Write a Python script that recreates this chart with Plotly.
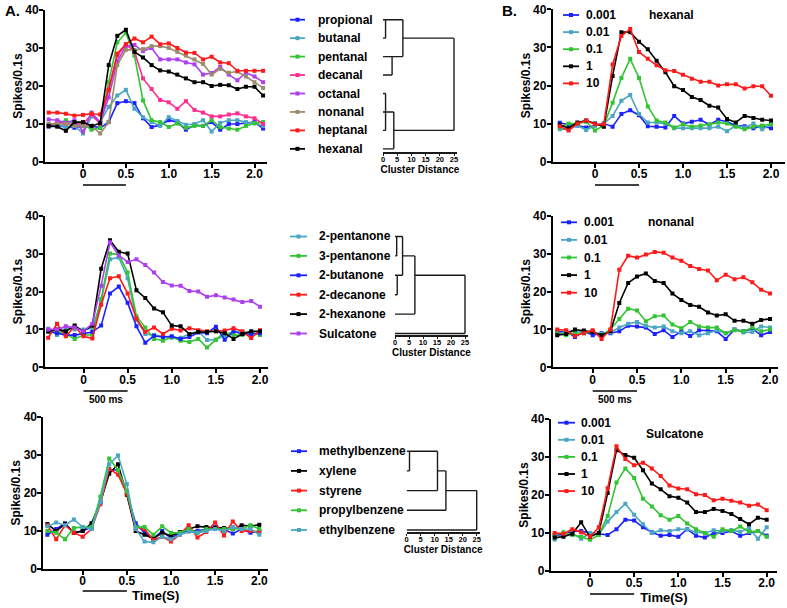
import math
import plotly.graph_objects as go

W, H = 787, 608
FONT = "Liberation Sans, Arial, Helvetica, sans-serif"

# ---------------- data ----------------
TIME_TO_21 = [-0.4, -0.3, -0.2, -0.1, 0.0, 0.1, 0.2, 0.3, 0.4, 0.5, 0.6, 0.7, 0.8,
              0.9, 1.0, 1.1, 1.2, 1.3, 1.4, 1.5, 1.6, 1.7, 1.8, 1.9, 2.0, 2.1]
TIME_TO_20 = [-0.4, -0.3, -0.2, -0.1, 0.0, 0.1, 0.2, 0.3, 0.4, 0.5, 0.6, 0.7, 0.8,
              0.9, 1.0, 1.1, 1.2, 1.3, 1.4, 1.5, 1.6, 1.7, 1.8, 1.9, 2.0]
STIMULUS = [0.0, 0.5]
X_TICKS = [0, 0.5, 1.0, 1.5, 2.0]
X_TICK_LABELS = ["0", "0.5", "1.0", "1.5", "2.0"]
Y_TICKS = [0, 10, 20, 30, 40]
DIST_TICKS = [0, 5, 10, 15, 20, 25]

BLUE = "#1c22ff"
CYAN = "#4aa6c2"
GREEN = "#33c433"
PINK = "#ff2e8e"
PURPLE = "#ad40ee"
TAN = "#9c8c6e"
RED = "#ff1a1a"
BLACK = "#000000"

# Panel A, aldehydes
A1_PROPIONAL = [9.3, 9.5, 9.3, 9.0, 9.5, 9.5, 9.0, 10.5, 15.5, 16.0, 15.5, 11.5, 9.2, 9.7, 11.0, 10.5, 8.5, 9.7, 9.5, 10.5, 8.5, 10.0, 10.0, 10.2, 10.5, 8.8]
A1_BUTANAL = [9.5, 10.0, 9.0, 9.5, 7.5, 12.0, 10.5, 14.5, 17.5, 19.0, 14.0, 11.8, 10.5, 9.5, 11.8, 10.8, 9.8, 10.0, 11.0, 8.0, 10.3, 11.0, 11.0, 10.5, 10.2, 9.5]
A1_PENTANAL = [10.0, 10.0, 11.0, 10.0, 10.0, 8.5, 9.0, 21.0, 31.5, 34.0, 28.0, 16.2, 11.0, 10.5, 9.2, 10.1, 9.0, 9.5, 9.5, 11.0, 9.2, 8.8, 8.5, 9.5, 10.2, 10.5]
A1_DECANAL = [9.5, 10.5, 10.0, 10.0, 10.0, 12.5, 10.0, 19.0, 28.0, 31.0, 29.0, 22.0, 19.2, 16.3, 15.7, 14.0, 16.0, 13.7, 13.0, 12.0, 12.0, 12.5, 12.8, 12.0, 11.5, 10.0]
A1_OCTANAL = [11.2, 11.0, 10.3, 11.0, 8.0, 13.0, 10.5, 17.0, 26.5, 30.5, 30.8, 29.2, 30.0, 27.0, 27.0, 27.0, 26.2, 25.7, 23.0, 23.4, 25.0, 23.0, 21.5, 23.5, 22.5, 21.0]
A1_NONANAL = [10.0, 10.0, 10.0, 9.5, 9.5, 9.5, 7.5, 10.5, 25.5, 29.5, 29.5, 29.7, 30.5, 30.5, 30.0, 29.0, 28.0, 27.0, 25.8, 23.0, 24.5, 23.5, 23.8, 22.5, 21.0, 19.5]
A1_HEPTANAL = [13.0, 13.0, 12.7, 12.2, 12.4, 12.7, 12.5, 19.0, 28.5, 31.0, 32.5, 31.5, 33.0, 31.0, 31.2, 30.0, 28.8, 28.7, 27.0, 27.7, 26.2, 26.0, 24.0, 24.0, 24.0, 24.0]
A1_HEXANAL = [9.5, 9.3, 8.2, 10.5, 10.5, 9.5, 10.2, 25.5, 33.2, 34.8, 29.0, 27.5, 25.5, 24.1, 23.8, 23.0, 22.0, 21.0, 21.0, 20.0, 20.3, 20.2, 19.2, 19.8, 19.8, 17.5]

# Panel A, ketones
A2_2PENTANONE = [10.2, 8.5, 10.5, 10.0, 10.0, 10.3, 17.5, 28.5, 29.0, 23.5, 12.5, 8.8, 8.5, 8.2, 7.8, 7.8, 8.8, 9.5, 7.2, 7.3, 8.3, 9.5, 9.3, 9.3, 9.3]
A2_3PENTANONE = [9.3, 9.5, 8.8, 7.5, 8.5, 8.6, 18.0, 30.0, 29.8, 25.0, 13.5, 10.5, 7.5, 7.0, 8.0, 7.0, 6.7, 7.5, 5.2, 7.3, 9.2, 8.5, 8.5, 9.0, 8.5]
A2_2BUTANONE = [9.5, 9.0, 8.5, 8.5, 9.0, 9.3, 11.0, 19.5, 21.3, 17.0, 10.8, 6.5, 8.3, 8.0, 8.2, 7.5, 8.0, 9.2, 9.0, 10.7, 7.3, 9.5, 8.8, 8.8, 9.0]
A2_2DECANONE = [7.8, 11.5, 8.2, 10.8, 8.2, 7.6, 16.5, 23.5, 24.0, 19.5, 12.8, 9.3, 10.5, 8.8, 10.2, 9.7, 10.3, 9.8, 9.5, 9.5, 9.7, 10.3, 9.5, 7.7, 9.8]
A2_2HEXANONE = [9.5, 10.0, 9.5, 11.0, 9.5, 11.0, 26.0, 33.5, 30.5, 30.0, 20.3, 18.3, 15.5, 14.5, 11.0, 10.8, 8.8, 9.3, 9.3, 9.5, 9.0, 7.5, 8.8, 9.5, 9.5]
A2_SULCATONE = [10.0, 10.0, 10.8, 10.5, 9.5, 11.5, 21.5, 33.0, 29.5, 27.8, 28.5, 27.0, 25.0, 22.5, 21.6, 21.5, 20.1, 20.0, 18.6, 19.0, 18.4, 17.9, 17.2, 17.5, 16.0]

# Panel A, aromatics
A3_METHYLBENZENE = [9.0, 10.5, 12.0, 9.5, 10.0, 11.0, 17.5, 26.0, 26.0, 20.0, 12.0, 9.5, 8.0, 10.0, 8.0, 9.5, 10.0, 10.0, 10.5, 11.0, 10.5, 9.3, 10.5, 9.5, 10.0]
A3_XYLENE = [11.8, 10.0, 11.8, 9.5, 10.0, 12.0, 17.5, 25.0, 27.5, 19.5, 10.0, 9.0, 8.0, 9.5, 8.7, 9.7, 10.5, 11.2, 11.0, 10.8, 10.8, 10.5, 11.5, 11.3, 11.6]
A3_STYRENE = [11.5, 7.8, 11.5, 9.5, 8.5, 10.5, 17.0, 26.3, 24.8, 19.8, 11.0, 10.5, 7.6, 8.5, 7.2, 9.0, 11.5, 8.3, 9.7, 12.2, 8.8, 12.5, 10.0, 10.0, 9.7]
A3_PROPYLBENZENE = [10.0, 9.5, 7.8, 10.8, 11.0, 11.0, 19.0, 29.0, 26.0, 20.5, 11.0, 11.0, 9.0, 11.2, 9.5, 9.5, 10.5, 9.5, 10.5, 10.5, 10.5, 10.5, 10.5, 11.5, 10.5]
A3_ETHYLBENZENE = [11.2, 12.2, 11.5, 13.0, 11.0, 10.5, 17.5, 27.5, 29.8, 22.3, 10.5, 7.2, 7.0, 8.5, 7.8, 9.0, 9.8, 9.5, 10.0, 10.5, 10.0, 11.0, 10.5, 10.5, 9.0]

# Panel B, dose series
DOSE_LABELS = ["0.001", "0.01", "0.1", "1", "10"]
DOSE_COLORS = [BLUE, CYAN, GREEN, BLACK, RED]

B1_HEXANAL = [
    [10.2, 9.7, 9.5, 9.0, 9.5, 10.0, 9.2, 12.5, 13.5, 12.2, 9.3, 9.2, 9.0, 12.0, 10.0, 10.5, 11.0, 9.7, 11.0, 10.5, 9.5, 9.3, 8.8, 9.3, 8.8],
    [8.5, 8.5, 9.5, 8.3, 9.5, 10.0, 12.0, 16.0, 17.5, 12.5, 10.3, 10.3, 10.0, 8.8, 8.8, 8.8, 8.8, 8.8, 9.2, 8.0, 9.5, 9.0, 10.0, 8.5, 9.8],
    [9.0, 10.0, 10.0, 10.5, 8.2, 9.5, 15.5, 22.0, 27.0, 22.0, 14.5, 10.8, 10.3, 9.0, 9.8, 9.2, 9.5, 9.8, 10.3, 10.0, 9.2, 8.5, 9.2, 9.5, 9.8],
    [9.7, 8.8, 10.3, 10.8, 10.0, 9.2, 22.5, 34.0, 34.0, 31.5, 29.5, 26.5, 23.5, 19.8, 18.8, 17.0, 16.2, 14.7, 14.2, 11.2, 10.3, 12.0, 11.5, 11.0, 10.8],
    [9.3, 8.2, 10.0, 10.8, 9.8, 9.8, 25.5, 33.0, 34.8, 28.8, 27.0, 25.3, 24.0, 23.8, 22.8, 21.8, 21.0, 21.0, 20.0, 20.3, 20.3, 19.2, 19.8, 19.8, 17.3],
]
B2_NONANAL = [
    [9.3, 9.5, 8.0, 9.5, 8.5, 9.0, 9.0, 9.5, 11.0, 10.8, 10.5, 8.8, 9.8, 8.0, 9.5, 8.3, 9.8, 9.7, 9.5, 7.5, 10.0, 9.5, 10.2, 8.5, 9.3],
    [8.7, 9.5, 9.5, 9.3, 9.3, 8.8, 9.2, 10.5, 11.5, 12.0, 11.0, 10.5, 10.8, 9.5, 9.0, 9.5, 8.5, 9.0, 9.8, 9.0, 10.0, 9.2, 9.3, 10.8, 10.5],
    [9.0, 8.5, 9.0, 9.0, 9.5, 8.5, 10.0, 12.8, 15.5, 15.0, 12.2, 13.5, 13.7, 11.3, 10.3, 12.0, 10.8, 10.5, 10.5, 9.0, 9.8, 9.5, 10.5, 9.5, 10.0],
    [8.5, 8.8, 10.0, 9.7, 9.3, 8.5, 9.5, 17.0, 22.3, 24.0, 24.8, 22.8, 22.3, 19.5, 17.8, 16.5, 16.0, 14.5, 13.7, 14.0, 12.3, 12.3, 11.5, 12.5, 12.8],
    [10.0, 9.8, 8.3, 9.0, 9.8, 7.5, 10.0, 25.8, 29.5, 29.0, 29.8, 30.5, 30.3, 29.0, 28.2, 26.8, 26.0, 25.6, 23.0, 24.5, 23.3, 23.8, 22.5, 20.5, 19.5],
]
B3_SULCATONE = [
    [9.5, 9.5, 10.5, 10.5, 10.0, 9.8, 9.5, 11.0, 13.5, 13.3, 11.5, 10.2, 9.3, 9.5, 9.0, 11.0, 9.3, 8.8, 10.0, 10.0, 10.5, 9.3, 10.0, 10.5, 9.3],
    [8.3, 9.5, 10.0, 8.5, 10.0, 9.5, 13.0, 15.5, 17.7, 14.8, 12.3, 10.0, 10.7, 10.5, 11.0, 11.0, 10.2, 10.0, 10.7, 10.5, 10.8, 10.3, 11.3, 8.5, 11.5],
    [9.5, 10.2, 9.5, 9.0, 8.2, 9.5, 14.5, 23.3, 27.0, 24.5, 19.0, 17.0, 14.7, 13.5, 14.5, 12.5, 11.0, 10.0, 9.0, 11.0, 10.5, 11.7, 10.3, 10.5, 9.0],
    [8.8, 9.0, 9.8, 12.8, 9.0, 10.0, 20.5, 31.8, 30.5, 29.8, 26.5, 23.0, 21.5, 19.7, 19.3, 18.0, 15.5, 15.5, 16.3, 15.8, 15.0, 13.7, 12.3, 14.0, 13.5],
    [10.0, 9.8, 11.0, 10.2, 9.0, 11.5, 21.8, 32.8, 29.5, 27.8, 28.5, 27.0, 25.0, 22.5, 21.7, 21.5, 20.2, 20.0, 18.6, 19.0, 18.5, 18.0, 17.2, 17.5, 16.0],
]

# Dendrograms: leaves (top to bottom) and merges (children, cluster distance);
# integer children refer to earlier merges
A1_LEAVES = ["propional", "butanal", "pentanal", "decanal", "octanal", "nonanal", "heptanal", "hexanal"]
A1_MERGES = [(["propional", "butanal"], 0.9), (["pentanal", "decanal"], 3.2), ([0, 1], 7.0),
             (["octanal", "nonanal", "heptanal"], 0.9), ([3, "hexanal"], 3.8), ([2, 4], 25.0)]
A2_LEAVES = ["2-pentanone", "3-pentanone", "2-butanone", "2-decanone", "2-hexanone", "Sulcatone"]
A2_MERGES = [(["2-pentanone", "3-pentanone"], 0.6), (["2-butanone", "2-decanone"], 0.8), ([0, 1], 2.7),
             ([2, "2-hexanone"], 7.1), ([3, "Sulcatone"], 25.0)]
A3_LEAVES = ["methylbenzene", "xylene", "styrene", "propylbenzene", "ethylbenzene"]
A3_MERGES = [(["methylbenzene", "xylene"], 1.0), ([0, "styrene"], 11.0), ([1, "propylbenzene"], 14.0),
             ([2, "ethylbenzene"], 25.0)]

A1_SERIES = [("propional", BLUE, A1_PROPIONAL), ("butanal", CYAN, A1_BUTANAL),
             ("pentanal", GREEN, A1_PENTANAL), ("decanal", PINK, A1_DECANAL),
             ("octanal", PURPLE, A1_OCTANAL), ("nonanal", TAN, A1_NONANAL),
             ("heptanal", RED, A1_HEPTANAL), ("hexanal", BLACK, A1_HEXANAL)]
A2_SERIES = [("2-pentanone", CYAN, A2_2PENTANONE), ("3-pentanone", GREEN, A2_3PENTANONE),
             ("2-butanone", BLUE, A2_2BUTANONE), ("2-decanone", RED, A2_2DECANONE),
             ("2-hexanone", BLACK, A2_2HEXANONE), ("Sulcatone", PURPLE, A2_SULCATONE)]
A3_SERIES = [("methylbenzene", BLUE, A3_METHYLBENZENE), ("xylene", BLACK, A3_XYLENE),
             ("styrene", RED, A3_STYRENE), ("propylbenzene", GREEN, A3_PROPYLBENZENE),
             ("ethylbenzene", CYAN, A3_ETHYLBENZENE)]


def dose_series(values):
    return list(zip(DOSE_LABELS, DOSE_COLORS, values))


# ---------------- layout helpers ----------------
def fx(p):
    return p / W


def fy(p):
    return 1 - p / H


fig = go.Figure()
shapes, annotations = [], []
layout = {}

# line panels: geometry in pixels (layout only)
PANELS = [
    dict(series=A1_SERIES, t=TIME_TO_21, xpx=(45, 267), zero=83, two=254.5, ypx=(10, 162),
         stim_y=185, scale_y=None, title=None, xtitle=False),
    dict(series=A2_SERIES, t=TIME_TO_20, xpx=(45, 268), zero=83.5, two=260, ypx=(215.7, 367.3),
         stim_y=None, scale_y=391, title=None, xtitle=False),
    dict(series=A3_SERIES, t=TIME_TO_20, xpx=(43.3, 268), zero=82.7, two=259.3, ypx=(416.7, 569),
         stim_y=591, scale_y=None, title=None, xtitle=True),
    dict(series=dose_series(B1_HEXANAL), t=TIME_TO_20, xpx=(552.7, 785), zero=595, two=771, ypx=(9.3, 161.7),
         stim_y=185, scale_y=None, title=("hexanal", 671, 15), xtitle=False,
         legend=(563, 579, 584, 15, 17.1)),
    dict(series=dose_series(B2_NONANAL), t=TIME_TO_20, xpx=(552.7, 778), zero=592.7, two=770, ypx=(216, 367.3),
         stim_y=None, scale_y=391, title=("nonanal", 671, 222), xtitle=False,
         legend=(561, 577, 582, 222.3, 17.6)),
    dict(series=dose_series(B3_SULCATONE), t=TIME_TO_20, xpx=(550.7, 777), zero=590, two=766.7, ypx=(419, 571),
         stim_y=594, scale_y=None, title=("Sulcatone", 675, 434), xtitle=True,
         legend=(558, 575, 579, 422.7, 17.1)),
]


def legend_entry(name, color, x0, x1, tx, ypx):
    shapes.append(dict(type="line", xref="paper", yref="paper", x0=fx(x0), x1=fx(x1),
                       y0=fy(ypx), y1=fy(ypx), line=dict(color=color, width=1.8)))
    xc = (x0 + x1) / 2
    shapes.append(dict(type="rect", xref="paper", yref="paper", x0=fx(xc - 2), x1=fx(xc + 2),
                       y0=fy(ypx + 2), y1=fy(ypx - 2), fillcolor=color, line=dict(width=0)))
    annotations.append(dict(text=name, x=fx(tx), y=fy(ypx), xref="paper", yref="paper",
                            xanchor="left", yanchor="middle", showarrow=False, font=dict(size=12)))


for k, p in enumerate(PANELS, start=1):
    xa, ya = f"x{k}", f"y{k}"
    for name, color, vals in p["series"]:
        fig.add_trace(go.Scatter(x=p["t"], y=vals, mode="lines+markers", name=name, showlegend=False,
                                 line=dict(color=color, width=1.6),
                                 marker=dict(symbol="square", size=4, color=color),
                                 xaxis=xa, yaxis=ya))
    pps = (p["two"] - p["zero"]) / 2.0
    xr = [(p["xpx"][0] - p["zero"]) / pps, (p["xpx"][1] - p["zero"]) / pps]
    xaxis = dict(domain=[fx(p["xpx"][0]), fx(p["xpx"][1])], range=xr, anchor=ya,
                 showline=True, linecolor="black", linewidth=1.8, ticks="outside", ticklen=4,
                 tickwidth=1.5, tickcolor="black", tickvals=X_TICKS, ticktext=X_TICK_LABELS,
                 showgrid=False, zeroline=False, tickfont=dict(size=12), automargin=False,
                 ticklabelstandoff=-4)
    if p["xtitle"]:
        xaxis["title"] = dict(text="Time(S)", font=dict(size=13), standoff=4)
    yaxis = dict(domain=[fy(p["ypx"][1]), fy(p["ypx"][0])], range=[0, 40], anchor=xa,
                 showline=True, linecolor="black", linewidth=1.8, ticks="outside", ticklen=4,
                 tickwidth=1.5, tickcolor="black", tickvals=Y_TICKS, showgrid=False,
                 zeroline=False, tickfont=dict(size=12), automargin=False, ticklabelstandoff=-2,
                 title=dict(text="Spikes/0.1s", font=dict(size=12), standoff=0))
    layout[f"xaxis{k}"] = xaxis
    layout[f"yaxis{k}"] = yaxis
    if p["stim_y"] is not None:
        shapes.append(dict(type="line", xref=xa, yref="paper", x0=STIMULUS[0], x1=STIMULUS[1],
                           y0=fy(p["stim_y"]), y1=fy(p["stim_y"]), line=dict(color="black", width=1.5)))
    if p["scale_y"] is not None:
        shapes.append(dict(type="line", xref=xa, yref="paper", x0=STIMULUS[0], x1=STIMULUS[1],
                           y0=fy(p["scale_y"]), y1=fy(p["scale_y"]), line=dict(color="black", width=1.5)))
        annotations.append(dict(text="500 ms", xref=xa, yref="paper",
                                x=(STIMULUS[0] + STIMULUS[1]) / 2, y=fy(p["scale_y"] + 8),
                                showarrow=False, xanchor="center", yanchor="middle", font=dict(size=10)))
    if p["title"]:
        annotations.append(dict(text=p["title"][0], x=fx(p["title"][1]), y=fy(p["title"][2]),
                                xref="paper", yref="paper", showarrow=False, xanchor="center",
                                yanchor="middle", font=dict(size=12)))
    if "legend" in p:
        x0, x1, tx, r0, s = p["legend"]
        for i, (name, color, _) in enumerate(p["series"]):
            legend_entry(name, color, x0, x1, tx, r0 + i * s)


# dendrograms
def dendro_segments(leaves, merges):
    pos = {name: (i, 0.0) for i, name in enumerate(leaves)}
    nodes = []
    xs, ys = [], []
    for children, dist in merges:
        rows = []
        for c in children:
            r, x0 = nodes[c] if isinstance(c, int) else pos[c]
            xs += [x0, dist, None]
            ys += [r, r, None]
            rows.append(r)
        lo, hi = min(rows), max(rows)
        xs += [dist, dist, None]
        ys += [lo, hi, None]
        nodes.append((math.floor((lo + hi) / 2), dist))
    return xs, ys


DENDROS = [
    dict(leaves=A1_LEAVES, merges=A1_MERGES, series=A1_SERIES, x0px=383, ppu=2.84,
         r0=19.7, s=18.45, axis_px=152, top_px=10, legend=(290, 305, 316)),
    dict(leaves=A2_LEAVES, merges=A2_MERGES, series=A2_SERIES, x0px=395, ppu=2.8,
         r0=236.5, s=19.4, axis_px=335.3, top_px=226, legend=(290, 307, 317)),
    dict(leaves=A3_LEAVES, merges=A3_MERGES, series=A3_SERIES, x0px=406.7, ppu=2.8,
         r0=451.2, s=19.7, axis_px=531.8, top_px=440, legend=(291, 307, 317)),
]

for j, d in enumerate(DENDROS, start=7):
    xa, ya = f"x{j}", f"y{j}"
    xs, ys = dendro_segments(d["leaves"], d["merges"])
    fig.add_trace(go.Scatter(x=xs, y=ys, mode="lines", showlegend=False, hoverinfo="skip",
                             line=dict(color="#1a1a1a", width=1.4), xaxis=xa, yaxis=ya))
    layout[f"xaxis{j}"] = dict(domain=[fx(d["x0px"]), fx(d["x0px"] + 26 * d["ppu"])], range=[0, 26],
                               anchor=ya, showline=True, linecolor="#1a1a1a", linewidth=1.5,
                               ticks="outside", ticklen=2, tickwidth=1, tickcolor="#1a1a1a",
                               tickvals=DIST_TICKS, showgrid=False, zeroline=False,
                               tickfont=dict(size=7.5), automargin=False, ticklabelstandoff=-3,
                               title=dict(text="Cluster Distance", font=dict(size=10), standoff=0))
    bottom_val = (d["axis_px"] - d["r0"]) / d["s"]
    top_val = (d["top_px"] - d["r0"]) / d["s"]
    layout[f"yaxis{j}"] = dict(domain=[fy(d["axis_px"]), fy(d["top_px"])], range=[bottom_val, top_val],
                               anchor=xa, visible=False, showgrid=False, zeroline=False)
    lx0, lx1, tx = d["legend"]
    for i, (name, color, _) in enumerate(d["series"]):
        legend_entry(name, color, lx0, lx1, tx, d["r0"] + i * d["s"])

# panel letters
annotations.append(dict(text="A.", x=fx(3), y=fy(10), xref="paper", yref="paper", showarrow=False,
                        xanchor="left", yanchor="middle", font=dict(size=15)))
annotations.append(dict(text="B.", x=fx(500), y=fy(10), xref="paper", yref="paper", showarrow=False,
                        xanchor="left", yanchor="middle", font=dict(size=15)))

fig.update_layout(
    width=W, height=H, autosize=False,
    margin=dict(l=0, r=0, t=0, b=0),
    paper_bgcolor="white", plot_bgcolor="rgba(0,0,0,0)",
    font=dict(family=FONT, size=12, color="black", weight="bold"),
    showlegend=False,
    shapes=shapes, annotations=annotations,
    **layout,
)

fig.write_html("out.html")
